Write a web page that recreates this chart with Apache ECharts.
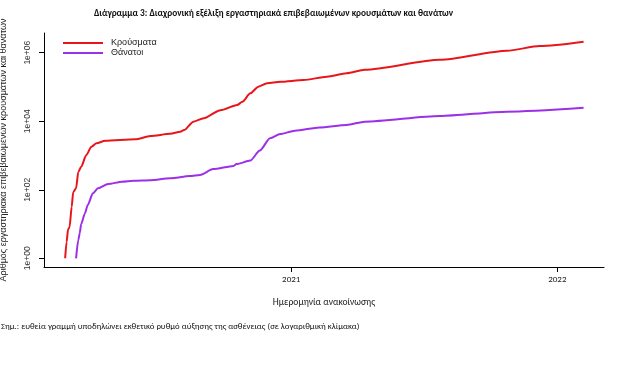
<!DOCTYPE html>
<html>
<head>
<meta charset="utf-8">
<script src="https://cdn.jsdelivr.net/npm/echarts@6/dist/echarts.min.js"></script>
<style>
html,body{margin:0;padding:0;background:#fff;}
#chart{width:619px;height:375px;}
</style>
</head>
<body>
<div id="chart"></div>
<script>
// ---- data ----
const caseDates = ["2020-02-26","2020-02-28","2020-03-01","2020-03-03","2020-03-06","2020-03-08","2020-03-12","2020-03-15","2020-03-19","2020-03-26","2020-04-02","2020-04-09","2020-04-21","2020-06-01","2020-06-22","2020-07-19","2020-08-02","2020-08-07","2020-08-20","2020-09-03","2020-09-26","2020-10-19","2020-10-26","2020-11-06","2020-11-17","2020-11-29","2020-12-17","2021-01-18","2021-02-19","2021-03-18","2021-04-12","2021-07-24","2021-10-24","2021-12-08","2022-02-06"];
const caseValues = [1,3,7,8,32,85,110,330,470,1030,1800,2280,2700,2960,3700,4300,4950,5500,9700,12200,21000,29700,37000,65000,102000,128000,142000,159000,199000,250000,315000,620000,1140000,1560000,2090000];

const deathDates = ["2020-03-12","2020-03-15","2020-03-17","2020-03-19","2020-03-24","2020-03-28","2020-04-04","2020-04-11","2020-04-25","2020-05-14","2020-05-30","2020-06-22","2020-07-19","2020-08-15","2020-08-29","2020-09-16","2020-10-14","2020-10-18","2020-11-06","2020-11-19","2020-12-03","2020-12-17","2021-01-06","2021-02-09","2021-03-18","2021-04-12","2021-07-24","2021-10-24","2022-02-06"];
const deathValues = [1,3.4,5.4,10,20,36,79,110,147,172,184,190,215,250,270,400,495,560,710,1400,3170,4200,5300,6600,7750,9700,14200,19000,24700];

const yTickValues = [1, 100, 10000, 1000000];
const xTickYears = [2021, 2022];

const seriesNames = ["Κρούσματα", "Θάνατοι"];
const titleText = "Διάγραμμα 3: Διαχρονική εξέλιξη εργαστηριακά επιβεβαιωμένων κρουσμάτων και θανάτων";
const yAxisTitle = "Αριθμός εργαστηριακά επιβεβαιωμένων κρουσμάτων και θανάτων";
const xAxisTitle = "Ημερομηνία ανακοίνωσης";
const noteText = "Σημ.: ευθεία γραμμή υποδηλώνει εκθετικό ρυθμό αύξησης της ασθένειας (σε λογαριθμική κλίμακα)";

// ---- chart ----
function ts(s){ const p = s.split('-').map(Number); return Date.UTC(p[0], p[1]-1, p[2]); }
const docFont = "Carlito, 'Liberation Sans Narrow', 'Open Sans', sans-serif";
const plotFont = "'Liberation Sans', Arial, sans-serif";
const xTicks = xTickYears.map(y => Date.UTC(y,0,1));
const colors = ['#e8161b', '#9b30e8'];

const chart = echarts.init(document.getElementById('chart'), null, {renderer:'canvas'});
chart.setOption({
  animation: false,
  backgroundColor: '#fff',
  grid: {left: 44, right: 15, top: 33, bottom: 108, containLabel: false, outerBoundsMode: 'none'},
  xAxis: {
    type: 'value',
    min: ts("2020-01-28"),
    max: ts("2022-03-06"),
    axisLine: {lineStyle: {color: '#000', width: 1}},
    axisTick: {show: true, length: 5, lineStyle: {color: '#000'}, customValues: xTicks},
    axisLabel: {customValues: xTicks, formatter: v => String(new Date(v).getUTCFullYear()), fontSize: 9, color: '#222', fontFamily: docFont, margin: 8},
    splitLine: {show: false}
  },
  yAxis: {
    type: 'log',
    logBase: 10,
    min: Math.pow(10, -0.254),
    max: Math.pow(10, 6.574),
    axisLine: {show: true, lineStyle: {color: '#000', width: 1}},
    axisTick: {show: true, length: 5, lineStyle: {color: '#000'}, customValues: yTickValues},
    axisLabel: {customValues: yTickValues, rotate: 90, margin: 12, fontSize: 8.5, color: '#333', fontFamily: plotFont,
      formatter: v => { const e = Math.round(Math.log10(v)); return '1e+' + (e < 10 ? '0' : '') + e; }},
    splitLine: {show: false},
    name: yAxisTitle,
    nameLocation: 'middle',
    nameRotate: 90,
    nameGap: 36,
    nameTextStyle: {fontSize: 9, color: '#222', fontFamily: plotFont}
  },
  legend: {
    orient: 'vertical', left: 63, top: 38, padding: 0,
    itemWidth: 40, itemHeight: 2, itemGap: 0,
    icon: 'rect',
    textStyle: {fontSize: 9, lineHeight: 10, height: 10, color: '#222', fontFamily: plotFont, padding: [0,0,0,3]},
    data: seriesNames
  },
  series: [
    {name: seriesNames[0], type: 'line', showSymbol: false, symbol: 'none', smooth: 0.25, smoothMonotone: 'x',
     lineStyle: {color: colors[0], width: 2}, itemStyle: {color: colors[0]},
     data: caseDates.map((d,i) => [ts(d), caseValues[i]])},
    {name: seriesNames[1], type: 'line', showSymbol: false, symbol: 'none', smooth: 0.25, smoothMonotone: 'x',
     lineStyle: {color: colors[1], width: 2}, itemStyle: {color: colors[1]},
     data: deathDates.map((d,i) => [ts(d), deathValues[i]])}
  ],
  graphic: [
    {type: 'text', x: 273.5, y: 14, style: {text: titleText, align: 'center', verticalAlign: 'middle', font: "bold 9.3px " + docFont, fill: '#111'}},
    {type: 'text', x: 324, y: 303, style: {text: xAxisTitle, align: 'center', verticalAlign: 'middle', font: "9.6px " + docFont, fill: '#222'}},
    {type: 'text', x: 1, y: 327, style: {text: noteText, align: 'left', verticalAlign: 'middle', font: "8.8px " + docFont, fill: '#111'}}
  ]
});
</script>
</body>
</html>
